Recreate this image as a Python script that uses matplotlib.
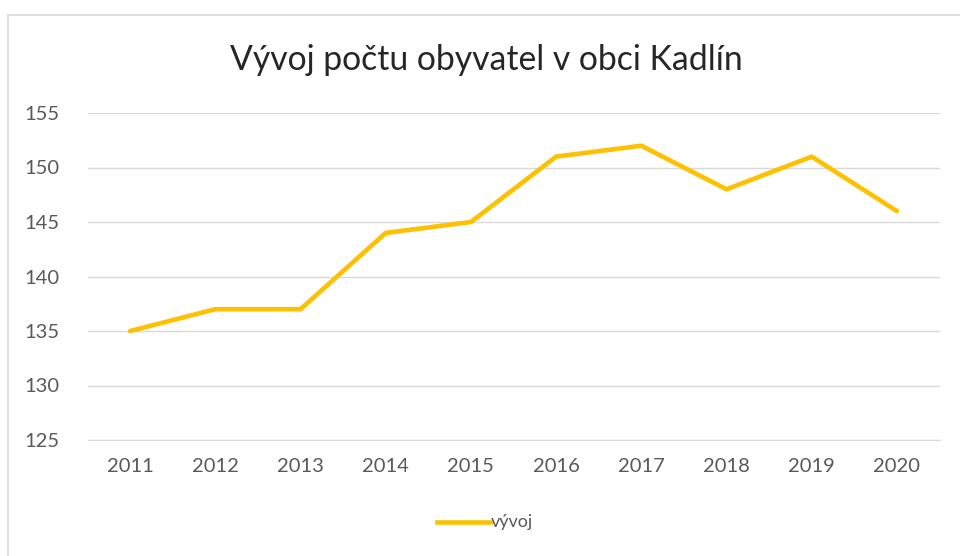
import matplotlib
matplotlib.use("Agg")
import matplotlib.pyplot as plt
from matplotlib.lines import Line2D

years = ["2011", "2012", "2013", "2014", "2015", "2016", "2017", "2018", "2019", "2020"]
values = [135, 137, 137, 144, 145, 151, 152, 148, 151, 146]
yticks = [125, 130, 135, 140, 145, 150, 155]
title = "Vývoj počtu obyvatel v obci Kadlín"
series_name = "vývoj"

plt.rcParams['font.family'] = ['Lato', 'DejaVu Sans']
W, H = 960, 556
fig = plt.figure(figsize=(W/100, H/100), dpi=100)
fig.patch.set_facecolor('white')

# chart border (left and top visible)
fig.add_artist(Line2D([8/W, 8/W], [0, 1 - 15/H], transform=fig.transFigure, color='#d9d9d9', lw=1.2))
fig.add_artist(Line2D([8/W, 1], [1 - 15/H, 1 - 15/H], transform=fig.transFigure, color='#d9d9d9', lw=1.2))

left, right = 87.5, 939.5
top, bottom = 113, 440
ax = fig.add_axes([left/W, 1 - bottom/H, (right-left)/W, (bottom-top)/H])
x = list(range(len(years)))
ax.plot(x, values, color='#FFC000', lw=3.3, solid_joinstyle='round', solid_capstyle='round', zorder=3)
ax.set_xlim(-0.5, len(years) - 0.5)
ax.set_ylim(125, 155)
ax.set_yticks(yticks)
ax.set_xticks(x)
ax.set_xticklabels(years)
ax.grid(axis='y', color='#d9d9d9', lw=1.0)
ax.set_axisbelow(True)
for s in ['top', 'right', 'left']:
    ax.spines[s].set_visible(False)
ax.spines['bottom'].set_color('#d9d9d9')
ax.tick_params(axis='both', length=0, colors='#595959', labelsize=14.5)
ax.tick_params(axis='y', pad=20)
ax.tick_params(axis='x', pad=13)

fig.text(486/W, 1 - 60/H, title, ha='center', va='center', fontsize=24.3, color='#262626')

# legend
fig.add_artist(Line2D([437/W, 490/W], [1 - 522/H, 1 - 522/H], transform=fig.transFigure, color='#FFC000', lw=3.3))
fig.text(491/W, 1 - 522/H, series_name, ha='left', va='center', fontsize=13, color='#595959')

fig.savefig("out.png", dpi=100, facecolor='white')
